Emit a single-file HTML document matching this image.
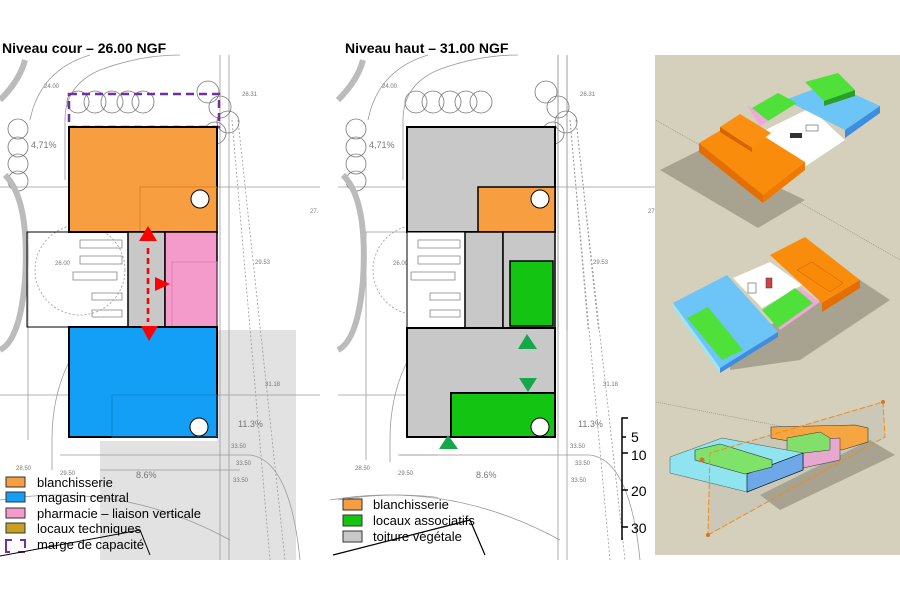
<!DOCTYPE html>
<html><head><meta charset="utf-8"><style>
html,body{margin:0;padding:0;background:#fff;}
svg{display:block;font-family:"Liberation Sans",sans-serif;}
</style></head><body>
<svg width="900" height="600" viewBox="0 0 900 600" xmlns="http://www.w3.org/2000/svg">
<defs>
<g id="bg" fill="none" stroke="#9a9a9a" stroke-width="0.8">
  <path d="M28 232 V440 M27 232 H69 M0 187 H320 M0 395 H320"/>
  <path d="M220 55 V560 M229 55 V560"/>
  <path d="M52 470 V440 Q52 395 70 360 M65 180 V120 Q65 85 100 70 Q140 55 180 55"/>
  <path d="M30 120 Q40 70 90 55"/>
  <path d="M232 120 L270 560 M238 120 L285 560" stroke-dasharray="2,2"/>
  <path d="M60 455 H250 Q290 460 300 560 M100 470 H240"/>
  <path d="M0 500 Q120 480 230 540"/>
  <circle cx="80" cy="270" r="45" stroke-dasharray="2,2"/>
  <g stroke="#777">
   <circle cx="78" cy="102" r="11"/><circle cx="95" cy="102" r="11"/><circle cx="112" cy="102" r="11"/><circle cx="128" cy="102" r="11"/><circle cx="143" cy="102" r="11"/>
   <circle cx="18" cy="129" r="10"/><circle cx="18" cy="147" r="10"/><circle cx="18" cy="164" r="10"/><circle cx="18" cy="181" r="10"/>
   <circle cx="208" cy="92" r="11"/><circle cx="220" cy="107" r="11"/><circle cx="228" cy="122" r="11"/><circle cx="215" cy="133" r="11"/>
   <path d="M5 175 Q30 200 25 280 Q20 340 0 350" stroke-width="6" stroke="#bbb"/>
   <path d="M0 100 Q20 80 25 60" stroke-width="6" stroke="#bbb"/>
  </g>
  <g stroke="#888">
   <rect x="80" y="240" width="42" height="8"/><rect x="80" y="256" width="42" height="8"/><rect x="73" y="272" width="44" height="8"/>
   <rect x="92" y="293" width="30" height="7"/><rect x="92" y="310" width="30" height="7"/>
  </g>
  <g fill="#777" stroke="none" font-size="6">
   <text x="44" y="88">24.00</text><text x="242" y="96">26.31</text><text x="55" y="265">26.00</text>
   <text x="255" y="264">29.53</text><text x="265" y="386">31.18</text><text x="231" y="448">33.50</text>
   <text x="236" y="465">33.50</text><text x="233" y="482">33.50</text><text x="16" y="470">28.50</text><text x="60" y="475">29.50</text>
   <text x="310" y="213">27.</text>
   <text x="238" y="427" font-size="9">11.3%</text><text x="136" y="478" font-size="9">8.6%</text>
   <text x="31" y="148" font-size="9">4,71%</text>
  </g>
</g>
</defs>

<!-- LEFT PANEL -->
<rect x="217" y="330" width="79" height="230" fill="#e2e2e2"/>
<rect x="100" y="441" width="196" height="119" fill="#e2e2e2"/>
<use href="#bg"/>
<text x="2" y="53" font-size="14" font-weight="bold" fill="#000">Niveau cour – 26.00 NGF</text>
<rect x="69" y="94" width="150" height="33" fill="none" stroke="#7030a0" stroke-width="2.5" stroke-dasharray="8,5"/>
<rect x="69" y="127" width="148" height="105" fill="#f79e40" stroke="#000" stroke-width="2"/>
<rect x="140" y="187" width="77" height="45" fill="none" stroke="#d07a20" stroke-width="0.8"/>
<circle cx="200" cy="199" r="9" fill="#fff" stroke="#000"/>
<rect x="27" y="232" width="101" height="95" fill="none" stroke="#000" stroke-width="1"/>
<rect x="128" y="232" width="37" height="95" fill="#c8c8c8" stroke="#000" stroke-width="1.5"/>
<rect x="165" y="232" width="52" height="95" fill="#f59bcb" stroke="#000" stroke-width="1.5"/>
<rect x="172" y="262" width="45" height="65" fill="none" stroke="#d27aa8" stroke-width="0.8"/>
<rect x="69" y="327" width="148" height="110" fill="#139ff5" stroke="#000" stroke-width="2"/>
<rect x="112" y="395" width="105" height="42" fill="none" stroke="#0d80c8" stroke-width="0.8"/>
<circle cx="199" cy="427" r="9" fill="#fff" stroke="#000"/>
<polygon points="148,226 139,241 157,241" fill="#f00"/>
<line x1="148" y1="248" x2="148" y2="322" stroke="#f00" stroke-width="2.5" stroke-dasharray="6,4"/>
<polygon points="141,326 158,326 149,341" fill="#f00"/>
<polygon points="155,277 155,291 170,284" fill="#f00"/>
<g font-size="13" fill="#000">
 <rect x="6" y="477" width="19" height="10" fill="#f79e40" stroke="#333"/><text x="37" y="487">blanchisserie</text>
 <rect x="6" y="492" width="19" height="10" fill="#139ff5" stroke="#333"/><text x="37" y="502">magasin central</text>
 <rect x="6" y="508" width="19" height="10" fill="#f59bcb" stroke="#333"/><text x="37" y="518">pharmacie – liaison verticale</text>
 <rect x="6" y="523" width="19" height="10" fill="#c9a020" stroke="#333"/><text x="37" y="533">locaux techniques</text>
 <path d="M12 540 H6 V552 H10 M20 540 H25 V548 M25 552 H18" fill="none" stroke="#7030a0" stroke-width="2"/><text x="37" y="549">marge de capacité</text>
</g>
<path d="M0 556 L140 530 L150 555" fill="none" stroke="#000" stroke-width="1"/>

<!-- MIDDLE PANEL -->
<rect x="326" y="55" width="329" height="505" fill="#fff"/>
<g transform="translate(338,0)"><use href="#bg"/></g>
<rect x="555" y="330" width="100" height="230" fill="#fff"/>
<rect x="438" y="441" width="217" height="119" fill="#fff"/>
<rect x="340" y="462" width="80" height="18" fill="#fff"/>
<g fill="none" stroke="#999" stroke-width="0.8">
 <path d="M558 55 V560 M567 55 V560 M400 455 H590 Q630 460 640 560 M330 500 Q450 480 560 540 M366 440 V460"/>
 <path d="M570 120 L610 560 M576 120 L625 560" stroke-dasharray="2,2"/>
</g>
<g fill="#777" font-size="6"><text x="570" y="448">33.50</text><text x="575" y="465">33.50</text><text x="571" y="482">33.50</text><text x="603" y="386">31.18</text><text x="578" y="427" font-size="9">11.3%</text><text x="476" y="478" font-size="9">8.6%</text><text x="355" y="470">28.50</text><text x="398" y="475">29.50</text></g>
<text x="345" y="53" font-size="14" font-weight="bold" fill="#000">Niveau haut – 31.00 NGF</text>
<rect x="407" y="127" width="148" height="105" fill="#c8c8c8" stroke="#000" stroke-width="2"/>
<rect x="478" y="187" width="77" height="45" fill="#f79e40" stroke="#000" stroke-width="1.5"/>
<circle cx="540" cy="199" r="9" fill="#fff" stroke="#000"/>
<rect x="407" y="232" width="58" height="96" fill="#fff" stroke="#000" stroke-width="1"/>
<g fill="none" stroke="#888" stroke-width="0.8"><rect x="418" y="240" width="42" height="8"/><rect x="418" y="256" width="42" height="8"/><rect x="411" y="272" width="44" height="8"/><rect x="430" y="293" width="30" height="7"/><rect x="430" y="310" width="30" height="7"/></g>
<rect x="465" y="232" width="38" height="96" fill="#c8c8c8" stroke="#000" stroke-width="1.5"/>
<rect x="503" y="232" width="52" height="96" fill="#c8c8c8" stroke="#000" stroke-width="1.5"/>
<rect x="510" y="261" width="43" height="65" fill="#13c413" stroke="#000" stroke-width="1.5"/>
<rect x="407" y="328" width="148" height="109" fill="#c8c8c8" stroke="#000" stroke-width="2"/>
<rect x="451" y="393" width="104" height="44" fill="#13c413" stroke="#000" stroke-width="2"/>
<circle cx="540" cy="427" r="9" fill="#fff" stroke="#000"/>
<polygon points="527,334 518,349 537,349" fill="#13a84a"/>
<polygon points="519,378 537,378 528,392" fill="#13a84a"/>
<polygon points="448,435 439,449 458,449" fill="#13a84a"/>
<g stroke="#000" stroke-width="1.5" fill="none"><path d="M628 418 H622 V540 M622 437 H626 M622 453 H628 M622 490 H628 M622 527 H628"/></g>
<g font-size="14" fill="#000"><text x="631" y="442">5</text><text x="631" y="460">10</text><text x="631" y="496">20</text><text x="631" y="533">30</text></g>
<g font-size="13" fill="#000">
 <rect x="343" y="499" width="19" height="11" fill="#f79e40" stroke="#333"/><text x="373" y="509">blanchisserie</text>
 <rect x="343" y="515" width="19" height="11" fill="#13c413" stroke="#333"/><text x="373" y="525">locaux associatifs</text>
 <rect x="343" y="531" width="19" height="11" fill="#c8c8c8" stroke="#333"/><text x="373" y="541">toiture végétale</text>
</g>
<path d="M333 555 L470 520 L485 555" fill="none" stroke="#000" stroke-width="1.2"/>

<!-- RIGHT 3D PANEL -->
<rect x="655" y="55" width="245" height="500" fill="#d4d0bb"/>
<g stroke="#8a8778" stroke-width="0.6" fill="none"><path d="M656 120 L900 260 M656 402 L800 430" stroke-dasharray="1,1"/></g>
<polygon points="660,170 700,150 805,200 758,228" fill="#a7a390"/>
<polygon points="745,140 810,108 845,140 800,170" fill="#fff"/>
<polygon points="785,100 830,83 880,106 845,130" fill="#6dc4f7"/>
<polygon points="845,130 880,106 880,113 845,138" fill="#3e8ee0"/>
<polygon points="805,82 838,73 855,90 824,101" fill="#4fe03a"/>
<polygon points="824,101 855,90 855,96 824,106" fill="#2a9e25"/>
<polygon points="752,108 778,93 797,103 768,121" fill="#4fe03a"/>
<polygon points="747,105 752,108 768,121 760,126" fill="#f0a8d8"/>
<rect x="790" y="133" width="12" height="5" fill="#333"/><rect x="806" y="125" width="12" height="6" fill="#fff" stroke="#333" stroke-width="0.5"/>
<polygon points="699,143 738,120 805,162 763,195" fill="#fa8c0c"/>
<polygon points="699,143 763,195 763,203 699,152" fill="#e56e00"/>
<polygon points="763,195 805,162 805,170 763,203" fill="#f07a00"/>
<polygon points="720,127 740,114 771,133 752,148" fill="#fb8f12"/>
<polygon points="720,127 752,148 752,152 720,132" fill="#d86400"/>
<polygon points="730,345 860,280 890,300 800,360 730,370" fill="#a7a390"/>
<polygon points="733,278 770,262 802,285 762,308" fill="#fff"/>
<polygon points="770,255 805,237 860,280 822,303" fill="#fa8c0c"/>
<polygon points="822,303 860,280 860,288 822,312" fill="#e56e00"/>
<polygon points="797,270 812,262 843,283 830,292" fill="#f98a08" stroke="#c86000" stroke-width="0.5"/>
<polygon points="762,310 800,288 820,302 780,330" fill="#f0a8d8"/>
<polygon points="762,310 795,288 813,303 778,328" fill="#4fe03a"/>
<polygon points="673,303 727,275 778,332 720,368" fill="#6dc4f7"/>
<polygon points="673,303 720,368 720,373 673,308" fill="#9be6f0"/>
<polygon points="720,368 778,332 778,337 720,373" fill="#3e8ee0"/>
<polygon points="687,318 708,307 743,350 722,360" fill="#4fe03a"/>
<rect x="748" y="283" width="8" height="10" fill="#fff" stroke="#333" stroke-width="0.5"/><rect x="766" y="278" width="6" height="10" fill="#c44" stroke="#333" stroke-width="0.5"/>
<polygon points="710,453 883,402 885,437 708,535" fill="#c8c5b6" opacity="0.8"/>
<polygon points="760,495 870,440 895,455 780,510" fill="#a7a390"/>
<polygon points="771,427 855,425 868,428 868,442 842,450 771,438" fill="#f6a640" stroke="#333" stroke-width="0.6"/>
<polygon points="803,440 840,438 840,460 803,468" fill="#e7a8cf" stroke="#333" stroke-width="0.5"/>
<polygon points="787,438 820,432 830,438 830,450 787,455" fill="#82e06a" stroke="#333" stroke-width="0.5"/>
<polygon points="670,457 722,438 803,453 803,470 747,492 670,473" fill="#8fe4ef" stroke="#555" stroke-width="0.5"/>
<polygon points="747,474 803,453 803,470 747,492" fill="#6fa8e8" stroke="#000" stroke-width="0.6"/>
<polygon points="695,450 720,444 772,460 772,467 745,474 695,460" fill="#7fe36a" stroke="#333" stroke-width="0.6"/>
<g stroke="#f08a20" stroke-width="1" fill="none" stroke-dasharray="6,2"><path d="M708 535 L885 437 L883 402 L710 453 Z"/></g>
<circle cx="883" cy="402" r="2" fill="#e07020"/><circle cx="708" cy="535" r="2" fill="#e07020"/><circle cx="702" cy="460" r="2.5" fill="#e07020"/>
</svg>
</body></html>
